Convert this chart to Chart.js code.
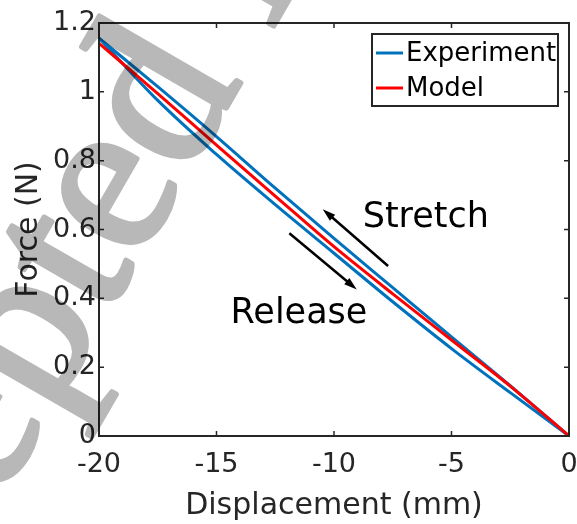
<!DOCTYPE html>
<html>
<head>
<meta charset="utf-8">
<script src="https://cdn.jsdelivr.net/npm/chart.js@4"></script>
<style>
  html, body { margin: 0; padding: 0; background: #fff; }
</style>
</head>
<body>
<canvas id="chart" width="577" height="524"></canvas>
<script>
// displacement samples (mm), shared by all curves
const disp = [-20, -17.5, -15, -12.5, -10, -7.5, -5, -2.5, 0];
// experiment, stretch branch (upper curve)
const stretchForce = [1.156, 1.015, 0.87, 0.72, 0.574, 0.431, 0.288, 0.146, 0];
// experiment, release branch (lower curve)
const releaseForce = [1.156, 0.975, 0.818, 0.672, 0.531, 0.39, 0.254, 0.126, 0];
// model curve
const modelForce = [1.141, 0.995, 0.845, 0.697, 0.55, 0.413, 0.279, 0.145, 0];

const xTicks = [-20, -15, -10, -5, 0];
const xTickLabels = ['-20', '-15', '-10', '-5', '0'];
const yTicks = [0, 0.2, 0.4, 0.6, 0.8, 1, 1.2];
const yTickLabels = ['0', '0.2', '0.4', '0.6', '0.8', '1', '1.2'];
const seriesNames = ['Experiment', 'Model'];

// text + arrow annotations, in data units
const notes = [
    { text: 'Stretch', x: -8.78, y: 0.608, from: [-7.70, 0.494], to: [-10.48, 0.659] },
    { text: 'Release', x: -14.40, y: 0.329, from: [-11.90, 0.589], to: [-9.03, 0.426] }
];

const BLUE = '#0072BD';
const RED = '#FF0000';
const AXIS = '#262626';

Chart.defaults.font.family = '"DejaVu Sans"';
Chart.defaults.color = AXIS;

const toPoints = (xs, ys) => xs.map((x, i) => ({ x: x, y: ys[i] }));

const curve = (label, ys, color, order) => ({
    label: label,
    data: toPoints(disp, ys),
    showLine: true,
    borderColor: color,
    borderWidth: 3,
    pointRadius: 0,
    cubicInterpolationMode: 'monotone',
    order: order
});

// box, inward ticks, legend, notes, watermark
const decorPlugin = {
    id: 'decor',
    afterDatasetsDraw(chart) {
        const ctx = chart.ctx;
        const a = chart.chartArea;
        const sx = chart.scales.x, sy = chart.scales.y;
        ctx.save();
        ctx.strokeStyle = AXIS;
        ctx.lineWidth = 2;
        ctx.strokeRect(a.left, a.top, a.right - a.left, a.bottom - a.top);
        ctx.lineWidth = 1.5;
        ctx.beginPath();
        xTicks.forEach(v => {
            const px = sx.getPixelForValue(v);
            ctx.moveTo(px, a.bottom); ctx.lineTo(px, a.bottom - 5);
            ctx.moveTo(px, a.top); ctx.lineTo(px, a.top + 5);
        });
        yTicks.forEach(v => {
            const py = sy.getPixelForValue(v);
            ctx.moveTo(a.left, py); ctx.lineTo(a.left + 5, py);
            ctx.moveTo(a.right, py); ctx.lineTo(a.right - 5, py);
        });
        ctx.stroke();

        // legend
        const lx = a.right - 197, ly = a.top + 11, lw = 186, lh = 72;
        ctx.fillStyle = '#fff';
        ctx.fillRect(lx, ly, lw, lh);
        ctx.lineWidth = 2;
        ctx.strokeStyle = AXIS;
        ctx.strokeRect(lx, ly, lw, lh);
        const colors = [BLUE, RED];
        ctx.font = '26px "DejaVu Sans"';
        ctx.textBaseline = 'middle';
        ctx.textAlign = 'left';
        seriesNames.forEach((name, i) => {
            const ry = ly + 19 + i * 35;
            ctx.strokeStyle = colors[i];
            ctx.lineWidth = 3;
            ctx.beginPath();
            ctx.moveTo(lx + 4, ry); ctx.lineTo(lx + 31, ry);
            ctx.stroke();
            ctx.fillStyle = '#000';
            ctx.fillText(name, lx + 34, ry + 1);
        });

        // notes with arrows
        ctx.font = '35px "DejaVu Sans"';
        ctx.textBaseline = 'alphabetic';
        notes.forEach(n => {
            ctx.fillStyle = '#000';
            ctx.fillText(n.text, sx.getPixelForValue(n.x), sy.getPixelForValue(n.y));
            const x0 = sx.getPixelForValue(n.from[0]), y0 = sy.getPixelForValue(n.from[1]);
            const x1 = sx.getPixelForValue(n.to[0]), y1 = sy.getPixelForValue(n.to[1]);
            const ang = Math.atan2(y1 - y0, x1 - x0);
            const hl = 13, hw = 4;
            ctx.strokeStyle = '#000';
            ctx.lineWidth = 2.5;
            ctx.beginPath();
            ctx.moveTo(x0, y0);
            ctx.lineTo(x1 - hl * 0.8 * Math.cos(ang), y1 - hl * 0.8 * Math.sin(ang));
            ctx.stroke();
            ctx.beginPath();
            ctx.moveTo(x1, y1);
            ctx.lineTo(x1 - hl * Math.cos(ang) + hw * Math.sin(ang), y1 - hl * Math.sin(ang) - hw * Math.cos(ang));
            ctx.lineTo(x1 - hl * Math.cos(ang) - hw * Math.sin(ang), y1 - hl * Math.sin(ang) + hw * Math.cos(ang));
            ctx.closePath();
            ctx.fill();
        });
        ctx.restore();
    },
    afterDraw(chart) {
        // grey "Accepted Manuscript" stamp laid over the figure
        const w = chart.width, h = chart.height;
        const off = document.createElement('canvas');
        off.width = w; off.height = h;
        const o = off.getContext('2d');
        o.fillStyle = o.strokeStyle = 'rgb(184,184,184)';
        o.lineWidth = 5;
        o.lineJoin = 'round';
        o.font = '225px "Liberation Serif"';
        o.translate(186, 178);
        o.rotate(-60 * Math.PI / 180);
        const dx = -o.measureText('Accepte').width;
        o.fillText('Accepted Manuscript', dx, 0);
        o.strokeText('Accepted Manuscript', dx, 0);

        const ctx = chart.ctx;
        ctx.save();
        ctx.globalCompositeOperation = 'multiply';
        ctx.drawImage(off, 0, 0);
        ctx.restore();
    }
};

new Chart(document.getElementById('chart'), {
    type: 'scatter',
    data: {
        datasets: [
            curve(seriesNames[0], stretchForce, BLUE, 1),
            curve(seriesNames[0], releaseForce, BLUE, 2),
            curve(seriesNames[1], modelForce, RED, 0)
        ]
    },
    options: {
        responsive: false,
        animation: false,
        devicePixelRatio: 1,
        layout: { padding: { top: 23, right: 8, left: 0, bottom: 0 } },
        plugins: { legend: { display: false }, tooltip: { enabled: false } },
        scales: {
            x: {
                type: 'linear',
                min: -20,
                max: 0,
                afterBuildTicks: s => { s.ticks = xTicks.map(v => ({ value: v })); },
                afterFit: s => { s.height = 88; s.paddingLeft = 0; s.paddingRight = 0; },
                ticks: {
                    padding: 13,
                    maxRotation: 0,
                    font: { size: 27 },
                    color: AXIS,
                    callback: (v, i) => xTickLabels[i]
                },
                grid: { display: false, drawTicks: false },
                border: { display: false },
                title: {
                    display: true,
                    text: 'Displacement (mm)',
                    font: { size: 30 },
                    color: AXIS,
                    padding: { top: 0, bottom: 0 }
                }
            },
            y: {
                type: 'linear',
                min: 0,
                max: 1.2,
                afterBuildTicks: s => { s.ticks = yTicks.map(v => ({ value: v })); },
                afterFit: s => { s.width = 99; s.paddingTop = 0; s.paddingBottom = 0; },
                ticks: {
                    padding: 3,
                    font: { size: 27 },
                    color: AXIS,
                    callback: (v, i) => yTickLabels[i]
                },
                grid: { display: false, drawTicks: false },
                border: { display: false },
                title: {
                    display: true,
                    text: 'Force (N)',
                    font: { size: 30 },
                    color: AXIS,
                    padding: { top: 11, bottom: 0 }
                }
            }
        }
    },
    plugins: [decorPlugin]
});
</script>
</body>
</html>
